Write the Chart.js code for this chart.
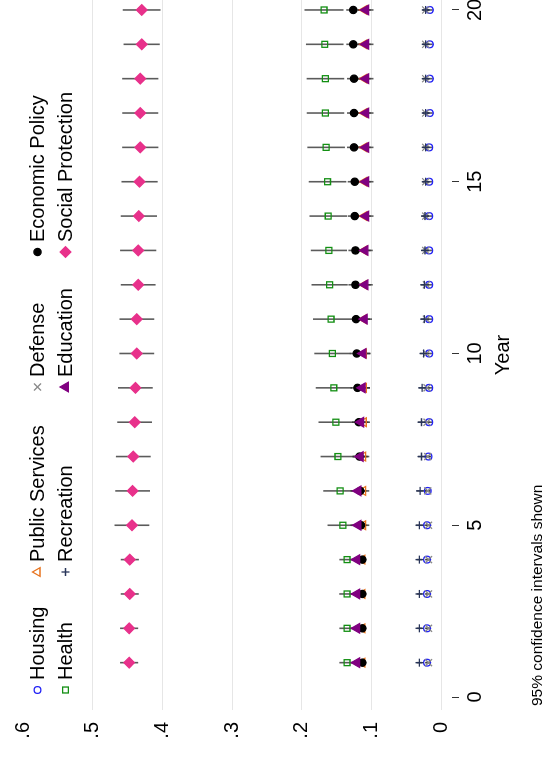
<!DOCTYPE html>
<html>
<head>
<meta charset="utf-8">
<script src="https://cdn.jsdelivr.net/npm/chart.js@4.4.1/dist/chart.umd.min.js"></script>
<style>
  html, body { margin: 0; padding: 0; background: #fff; overflow: hidden; }
  #wrap {
    position: absolute; left: 0; top: 0; width: 771px; height: 555px;
    transform-origin: 0 0; transform: translate(0, 771px) rotate(-90deg);
  }
</style>
</head>
<body>
<div id="wrap"><canvas id="chart" width="771" height="555"></canvas></div>
<script>
// data
const years = [1, 2, 3, 4, 5, 6, 7, 8, 9, 10, 11, 12, 13, 14, 15, 16, 17, 18, 19, 20];
const yearTicks = [0, 5, 10, 15, 20];
const valueTicks = [0, 0.1, 0.2, 0.3, 0.4, 0.5, 0.6];
const valueLabels = ["0", ".1", ".2", ".3", ".4", ".5", ".6"];

const housing = [.020, .020, .020, .020, .020, .019, .018, .017, .017, .017, .017, .017, .017, .017, .017, .017, .016, .016, .016, .016];
const publicServices = [.113, .113, .113, .113, .112, .112, .112, .111, .111, .111, .111, .110, .110, .110, .110, .110, .110, .110, .110, .110];
const defense = [.018, .018, .018, .018, .018, .019, .019, .020, .020, .021, .021, .021, .022, .022, .022, .022, .022, .022, .022, .022];
const economicPolicy = [.113, .113, .113, .113, .115, .116, .117, .118, .120, .121, .122, .123, .123, .124, .124, .125, .125, .125, .126, .126];
const health = [.135, .135, .135, .135, .141, .145, .148, .151, .154, .156, .158, .160, .161, .162, .163, .165, .166, .166, .167, .168];
const recreation = [.031, .031, .031, .031, .031, .030, .028, .028, .027, .025, .024, .024, .023, .023, .022, .022, .022, .022, .022, .022];
const education = [.121, .121, .121, .121, .119, .119, .116, .115, .113, .112, .110, .109, .109, .108, .108, .108, .108, .108, .108, .108];
const socialProtection = [.448, .448, .447, .447, .444, .443, .442, .440, .439, .437, .437, .435, .435, .434, .433, .432, .432, .432, .430, .430];

// half widths of the 95% intervals
const ciHousing = [.003, .003, .003, .003, .004, .004, .004, .004, .004, .004, .004, .004, .004, .004, .004, .004, .004, .004, .004, .004];
const ciPublicServices = [.006, .006, .006, .006, .009, .009, .009, .009, .009, .009, .009, .009, .009, .009, .009, .009, .009, .009, .009, .009];
const ciDefense = [.003, .003, .003, .003, .004, .004, .004, .004, .004, .004, .004, .004, .004, .004, .004, .004, .004, .004, .004, .004];
const ciEconomicPolicy = [.005, .005, .005, .005, .009, .009, .010, .010, .010, .010, .010, .010, .010, .010, .010, .010, .010, .010, .010, .010];
const ciHealth = [.011, .011, .011, .011, .022, .024, .025, .025, .026, .026, .026, .026, .026, .027, .027, .027, .027, .027, .027, .028];
const ciRecreation = [.004, .004, .004, .004, .005, .005, .005, .005, .005, .005, .005, .005, .005, .005, .005, .005, .005, .005, .005, .005];
const ciEducation = [.008, .008, .008, .008, .011, .011, .011, .011, .011, .011, .011, .011, .011, .011, .011, .011, .011, .011, .011, .011];
const ciSocialProtection = [.013, .013, .013, .013, .025, .025, .025, .025, .025, .025, .025, .025, .026, .026, .026, .026, .026, .026, .026, .027];

const note = "95% confidence intervals shown";
const font = "'Liberation Sans', Arial, sans-serif";

const series = [
  { label: "Housing", values: housing, ci: ciHousing, style: "circle", color: "#2323f5", radius: 3.4, fill: false },
  { label: "Public Services", values: publicServices, ci: ciPublicServices, style: "triangle", color: "#e8741f", radius: 5, fill: false },
  { label: "Defense", values: defense, ci: ciDefense, style: "crossRot", color: "#8a8a8a", radius: 5, fill: false },
  { label: "Economic Policy", values: economicPolicy, ci: ciEconomicPolicy, style: "circle", color: "#000000", radius: 3.6, fill: true },
  { label: "Health", values: health, ci: ciHealth, style: "rect", color: "#138f13", radius: 4.2, fill: false },
  { label: "Recreation", values: recreation, ci: ciRecreation, style: "cross", color: "#283559", radius: 4, fill: false },
  { label: "Education", values: education, ci: ciEducation, style: "triangle", color: "#800080", radius: 5.5, fill: true },
  { label: "Social Protection", values: socialProtection, ci: ciSocialProtection, style: "rectRot", color: "#e8318b", radius: 5.3, fill: true }
];

const datasets = series.map((s, k) => ({
  label: s.label,
  data: years.map((yr, i) => ({ x: yr, y: s.values[i] })),
  pointStyle: s.style,
  pointRadius: s.radius,
  pointHoverRadius: s.radius,
  pointBorderWidth: 1.3,
  pointBorderColor: s.color,
  pointBackgroundColor: s.fill ? s.color : "rgba(0,0,0,0)",
  showLine: false,
  order: 8 - k
}));

// confidence interval lines under the markers
const ciPlugin = {
  id: "ciLines",
  beforeDatasetsDraw(chart) {
    const ctx = chart.ctx;
    const xs = chart.scales.x, ys = chart.scales.y;
    ctx.save();
    ctx.strokeStyle = "rgba(50,50,50,0.8)";
    ctx.lineWidth = 1.6;
    series.forEach(s => {
      years.forEach((yr, i) => {
        const x = xs.getPixelForValue(yr);
        ctx.beginPath();
        ctx.moveTo(x, ys.getPixelForValue(s.values[i] - s.ci[i]));
        ctx.lineTo(x, ys.getPixelForValue(s.values[i] + s.ci[i]));
        ctx.stroke();
      });
    });
    ctx.restore();
  }
};

// stata style legend, 2 rows x 4 columns inside the plot
const legendPlugin = {
  id: "stataLegend",
  afterDatasetsDraw(chart) {
    const ctx = chart.ctx;
    const colX = [81, 199, 384, 519];
    const rowY = [37.5, 65.5];
    ctx.save();
    series.forEach((s, k) => {
      const x = colX[k % 4], y = rowY[Math.floor(k / 4)];
      ctx.fillStyle = s.fill ? s.color : "rgba(0,0,0,0)";
      ctx.strokeStyle = s.color;
      ctx.lineWidth = 1.3;
      Chart.helpers.drawPoint(ctx, { pointStyle: s.style, radius: s.radius, rotation: 0, borderWidth: 1.3 }, x, y);
      ctx.fillStyle = "#000";
      ctx.font = "20px " + font;
      ctx.textAlign = "left";
      ctx.textBaseline = "middle";
      ctx.fillText(s.label, x + 10, y + 0.5);
    });
    ctx.font = "15.5px " + font;
    ctx.textBaseline = "alphabetic";
    ctx.fillText(note, 65, 542);
    ctx.restore();
  }
};

new Chart(document.getElementById("chart"), {
  type: "scatter",
  data: { datasets: datasets },
  options: {
    responsive: false,
    animation: false,
    devicePixelRatio: 1,
    layout: { padding: { top: 8, left: 0, right: 0, bottom: 0 }, autoPadding: false },
    plugins: { legend: { display: false }, tooltip: { enabled: false } },
    scales: {
      x: {
        type: "linear",
        min: -0.378,
        max: 20.29,
        afterBuildTicks: s => { s.ticks = yearTicks.map(v => ({ value: v })); },
        afterFit: s => { s.height = 103; s.paddingLeft = 0; s.paddingRight = 0; },
        border: { display: false },
        grid: { drawOnChartArea: false, drawTicks: true, tickLength: 7, color: "#333", lineWidth: 1 },
        ticks: { padding: 4, color: "#000", font: { family: font, size: 20 }, maxRotation: 0, autoSkip: false },
        title: { display: true, text: "Year", color: "#000", font: { family: font, size: 20 }, padding: { top: 0, bottom: 40 } }
      },
      y: {
        type: "linear",
        min: -0.0158,
        max: 0.622,
        afterBuildTicks: s => { s.ticks = valueTicks.map(v => ({ value: v })); },
        afterFit: s => { s.width = 61; s.paddingTop = 0; s.paddingBottom = 0; },
        border: { display: false },
        grid: {
          drawTicks: false,
          lineWidth: 1,
          color: c => (c.tick && c.tick.value === 0.6) ? "rgba(0,0,0,0)" : "#e6e6e6"
        },
        ticks: { padding: 12, color: "#000", font: { family: font, size: 20 }, callback: (v, i) => valueLabels[i] }
      }
    }
  },
  plugins: [ciPlugin, legendPlugin]
});
</script>
</body>
</html>
